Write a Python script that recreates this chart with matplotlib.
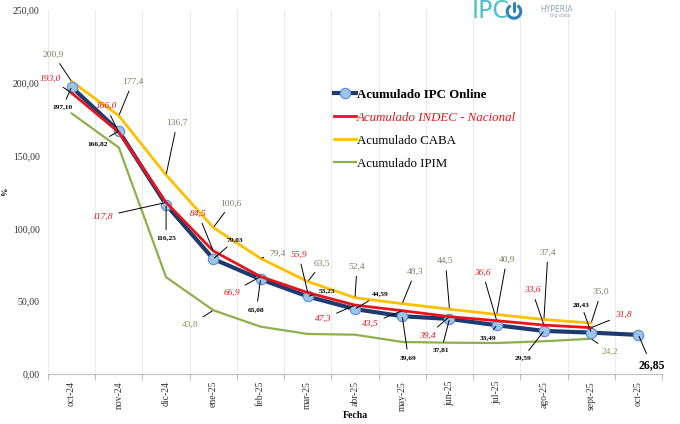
import matplotlib
matplotlib.use('Agg')
import matplotlib.pyplot as plt
from matplotlib.patches import Arc
import numpy as np

plt.rcParams['font.family'] = ['Liberation Serif', 'DejaVu Serif']

# Data
meses = ['oct-24', 'nov-24', 'dic-24', 'ene-25', 'feb-25', 'mar-25', 'abr-25',
         'may-25', 'jun-25', 'jul-25', 'ago-25', 'sept-25', 'oct-25']
ipc_online = [197.10, 166.82, 116.25, 79.03, 65.08, 53.23, 44.59, 39.69, 37.81,
              33.49, 29.59, 28.43, 26.85]
indec = [193.0, 166.0, 117.8, 84.5, 66.9, 55.9, 47.3, 43.5, 39.4, 36.6, 33.6, 31.8]
caba = [200.9, 177.4, 136.7, 100.6, 79.4, 63.5, 52.4, 48.3, 44.5, 40.9, 37.4, 35.0]
ipim = [179.0, 155.5, 66.5, 43.8, 32.5, 27.5, 27.0, 22.0, 21.5, 21.3, 22.5, 24.2]
ipim_labeled = [3, 11]

# label offsets in pixels (dx, dy)
off_ipc = [(-9, -20), (-21, -12), (0, -33), (22, 19), (-4, -30), (19, 6), (25, 15),
           (6, -41), (-8, -31), (-9, -12), (-21, -27), (-10, 28), (13, -30)]
off_indec = [(-21, 14), (-13, 26), (-63, -14), (-15, 37), (-29, -16), (-9, 38),
             (-32, -14), (-32, -13), (-22, -19), (-14, 48), (-12, 35), (32, 13)]
off_caba = [(-18, 27), (14, 34), (11, 52), (18, 24), (17, 5), (14, 18), (2, 31),
            (13, 32), (-4, 48), (10, 55), (4, 67), (10, 31)]
off_ipim = {3: (-23, -15), 11: (19, -13)}

fig = plt.figure(figsize=(6.8, 4.24), dpi=100)
ax = fig.add_axes([48 / 680, 50 / 424, 614 / 680, 364 / 424])

x = np.arange(len(meses))
navy = '#1F3A6E'
red = '#E8141B'
yellow = '#FFC000'
green = '#8DB04A'

ax.plot(x[:len(ipim)], ipim, color=green, lw=1.6, zorder=2, label='Acumulado IPIM')
ax.plot(x[:len(caba)], caba, color=yellow, lw=2.0, zorder=3, label='Acumulado CABA')
ax.plot(x, ipc_online, color=navy, lw=3.0, marker='o', markersize=7.5,
        markerfacecolor='#9DC3E6', markeredgecolor='#5B8FD0', markeredgewidth=0.8,
        zorder=4, label='Acumulado IPC Online')
ax.plot(x[:len(indec)], indec, color=red, lw=2.0, zorder=5,
        label='Acumulado INDEC - Nacional')

def fmt(v, d):
    return f'{v:.{d}f}'.replace('.', ',')

lead = dict(arrowstyle='-', color='black', lw=0.7, shrinkA=2, shrinkB=1)

for i, v in enumerate(ipc_online):
    last = i == len(ipc_online) - 1
    ax.annotate(fmt(v, 2), (x[i], v), xytext=off_ipc[i], textcoords='offset pixels',
                ha='center', va='center', fontsize=8.5 if last else 5.3,
                fontweight='bold', color='black', arrowprops=lead, zorder=6)
for i, v in enumerate(indec):
    ax.annotate(fmt(v, 1), (x[i], v), xytext=off_indec[i], textcoords='offset pixels',
                ha='center', va='center', fontsize=6.8, fontstyle='italic',
                color=red, arrowprops=lead, zorder=6)
for i, v in enumerate(caba):
    ax.annotate(fmt(v, 1), (x[i], v), xytext=off_caba[i], textcoords='offset pixels',
                ha='center', va='center', fontsize=6.8, color='#7F7F66',
                arrowprops=lead, zorder=6)
for i in ipim_labeled:
    ax.annotate(fmt(ipim[i], 1), (x[i], ipim[i]), xytext=off_ipim[i],
                textcoords='offset pixels', ha='center', va='center', fontsize=6.8,
                color='#8A9A5B', arrowprops=lead, zorder=6)

# axes styling
ax.set_xlim(-0.5, len(meses) - 0.5)
ax.set_ylim(0, 250)
ax.set_yticks([0, 50, 100, 150, 200, 250])
ax.set_yticklabels([fmt(t, 2) for t in [0, 50, 100, 150, 200, 250]], fontsize=7,
                   color='#333333')
ax.set_xticks(x)
ax.set_xticklabels(meses, rotation=90, fontsize=7, color='#333333')
ax.set_xticks(np.arange(-0.5, len(meses)), minor=True)
ax.tick_params(axis='x', which='major', length=0, pad=5)
ax.tick_params(axis='x', which='minor', length=4, color='#BFBFBF', width=0.8)
ax.tick_params(axis='y', length=0, pad=6)
ax.grid(axis='x', which='minor', color='#EBEBEB', lw=0.8)
for s in ['top', 'right', 'left']:
    ax.spines[s].set_visible(False)
ax.spines['bottom'].set_color('#BFBFBF')
ax.set_ylabel('%', fontsize=6, fontweight='bold', labelpad=3)
ax.set_xlabel('Fecha', fontsize=7, fontweight='bold', labelpad=0)

# legend
h, l = ax.get_legend_handles_labels()
order = [2, 3, 1, 0]
leg = fig.legend([h[k] for k in order], [l[k] for k in order], loc='upper left',
                 bbox_to_anchor=(322 / 680, 1 - 77 / 424), frameon=False, fontsize=9.3,
                 handlelength=1.7, handletextpad=0.1, labelspacing=0.85)
texts = leg.get_texts()
texts[0].set_fontweight('bold')
texts[1].set_fontstyle('italic')
texts[1].set_color(red)

# logo
fig.text(472 / 680, 1 - 11 / 424, 'IPC', fontsize=17, color='#4CC3C6',
         family='DejaVu Sans', va='center', ha='left')
lax = fig.add_axes([505 / 680, 1 - 20 / 424, 18 / 680, 18 / 424])
lax.set_xlim(-1, 1)
lax.set_ylim(-1, 1)
lax.set_aspect('equal')
lax.axis('off')
lax.add_patch(Arc((0, -0.05), 1.5, 1.5, theta1=120, theta2=60, color='#2E80C0', lw=2.2))
lax.plot([0, 0], [0.05, 0.85], color='#2E80C0', lw=2.2, solid_capstyle='round')
fig.text(540 / 680, 1 - 9 / 424, 'HYPERIA', fontsize=5.5, color='#8AAAB5',
         family='DejaVu Sans', va='center', ha='left')
fig.text(570 / 680, 1 - 15 / 424, 'big data', fontsize=3.5, color='#9AAAB0',
         family='DejaVu Sans', va='center', ha='right')

fig.savefig('out.png', dpi=100)
